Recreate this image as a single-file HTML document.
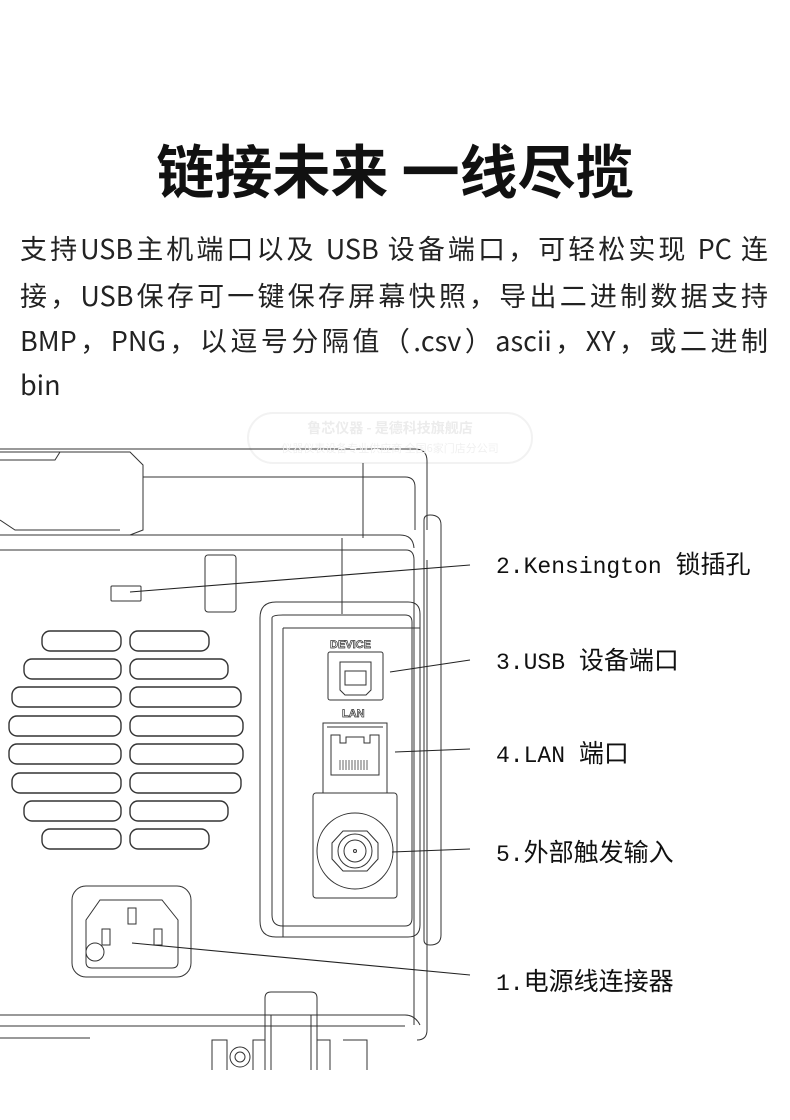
<!DOCTYPE html>
<html><head><meta charset="utf-8">
<style>
html,body{margin:0;padding:0;background:#fff;}
body{width:790px;height:1120px;position:relative;overflow:hidden;}
.t{position:absolute;left:0;width:790px;top:128px;text-align:center;font-family:"Noto Sans CJK SC",sans-serif;font-weight:bold;font-size:58px;line-height:80px;color:#111;}
.p{position:absolute;left:20px;width:748px;font-family:"Noto Sans CJK SC","Liberation Sans",sans-serif;font-size:27px;line-height:36px;color:#222;text-align:justify;text-align-last:justify;white-space:nowrap;}
.l{position:absolute;left:496px;font-family:"Liberation Mono","Noto Sans CJK SC",monospace;font-size:23px;line-height:30px;color:#111;white-space:nowrap;}
.l span{font-family:"Noto Sans CJK SC",sans-serif;font-size:25px;}
</style></head><body>
<div class="t">链接未来 一线尽揽</div>
<div class="p" style="top:230px">支持USB主机端口以及 USB 设备端口，可轻松实现 PC 连</div>
<div class="p" style="top:277px">接，USB保存可一键保存屏幕快照，导出二进制数据支持</div>
<div class="p" style="top:322px">BMP，PNG，以逗号分隔值（.csv）ascii，XY，或二进制</div>
<div class="p" style="top:366px;text-align-last:left">bin</div>

<svg width="790" height="1120" style="position:absolute;left:0;top:0" xmlns="http://www.w3.org/2000/svg">
<g fill="none" stroke="#333" stroke-width="1">
<rect x="248" y="413" width="284" height="50" rx="25" stroke="#f2f2f2" stroke-width="2"/>
<path d="M0 449 H415 Q427 449 427 461 V530"/>
<path d="M0 452 H130 L143 465 V530 L130 535"/>
<path d="M0 460 H55 L60 452"/>
<path d="M143 477 H405 Q415 477 415 487 V530"/>
<path d="M0 535 H400 Q413 535 414 548"/>
<path d="M0 550 H406 Q414 550 414 560"/>
<path d="M0 520 L15 530 H120"/>
<path d="M363 463 V538 M342 538 V614"/>
<path d="M424 520 Q424 515 430 515 Q441 515 441 525 V935 Q441 945 430 945 Q424 945 424 940 Z"/>
<path d="M427 560 V1030 Q427 1040 417 1040 M414 560 V1025"/>
<rect x="111" y="586" width="30" height="15" rx="1"/>
<rect x="205" y="555" width="31" height="57" rx="3"/>
<path d="M283 602 H408 Q420 602 420 614 V925 Q420 937 408 937 H276 Q260 937 260 921 V618 Q260 602 276 602 Z"/>
<path d="M272 618 Q272 615 283 615 H405 Q412 615 412 622 V918 Q412 926 405 926 H283 Q272 926 272 915 Z"/>
<path d="M283 628 H420 M283 628 V937"/>
<rect x="328" y="652" width="55" height="48" rx="2"/>
<path d="M340 662 H371 V690 L366 695 H345 L340 690 Z"/>
<rect x="345" y="671" width="21" height="14"/>
<path d="M323 723 H387 V793 H323 Z M327 727 H383"/>
<path d="M331 735 H340 V743 H346 V737 H364 V743 H370 V735 H379 V775 H331 Z"/>
<g stroke="#666"><path d="M340 760 V770 M343 760 V770 M346 760 V770 M349 760 V770 M352 760 V770 M355 760 V770 M358 760 V770 M361 760 V770 M364 760 V770 M367 760 V770"/></g>
<rect x="313" y="793" width="84" height="105" rx="3"/>
<circle cx="355" cy="851" r="38"/>
<path d="M343 831 H367 L378 843 V859 L367 871 H343 L332 859 V843 Z"/>
<circle cx="355" cy="851" r="17"/><circle cx="355" cy="851" r="11"/><circle cx="355" cy="851" r="1.5"/>
<g stroke-width="1.4">
<rect x="42" y="631" width="79" height="20" rx="8"/><rect x="130" y="631" width="79" height="20" rx="8"/>
<rect x="24" y="659" width="97" height="20" rx="8"/><rect x="130" y="659" width="98" height="20" rx="8"/>
<rect x="12" y="687" width="109" height="20" rx="8"/><rect x="130" y="687" width="111" height="20" rx="8"/>
<rect x="9" y="716" width="112" height="20" rx="8"/><rect x="130" y="716" width="113" height="20" rx="8"/>
<rect x="9" y="744" width="112" height="20" rx="8"/><rect x="130" y="744" width="113" height="20" rx="8"/>
<rect x="12" y="773" width="109" height="20" rx="8"/><rect x="130" y="773" width="111" height="20" rx="8"/>
<rect x="24" y="801" width="97" height="20" rx="8"/><rect x="130" y="801" width="98" height="20" rx="8"/>
<rect x="42" y="829" width="79" height="20" rx="8"/><rect x="130" y="829" width="79" height="20" rx="8"/>
</g>
<rect x="72" y="886" width="119" height="91" rx="14"/>
<path d="M100 900 H162 L178 920 V962 Q178 968 172 968 H92 Q86 968 86 962 V920 Z"/>
<rect x="128" y="908" width="8" height="16"/><rect x="102" y="929" width="8" height="16"/><rect x="154" y="929" width="8" height="16"/>
<circle cx="95" cy="952" r="9"/>
<path d="M0 1015 H405 Q415 1015 420 1025 M0 1026 H405 M0 1038 H90"/>
<path d="M265 1070 V998 Q265 992 271 992 H311 Q317 992 317 998 V1070 M271 1015 V1070 M311 1015 V1070"/>
<path d="M212 1070 V1040 H227 V1070 M253 1070 V1040 H265 M317 1040 H330 V1070 M343 1040 H367 V1070"/>
<circle cx="240" cy="1057" r="10"/><circle cx="240" cy="1057" r="5"/>
</g>
<g stroke="#222" stroke-width="1.1">
<line x1="130" y1="592" x2="470" y2="565"/>
<line x1="390" y1="672" x2="470" y2="660"/>
<line x1="395" y1="752" x2="470" y2="749"/>
<line x1="392" y1="852" x2="470" y2="849"/>
<line x1="132" y1="943" x2="470" y2="975"/>
</g>
<text x="330" y="648" font-family="Liberation Sans,sans-serif" font-size="11" font-weight="bold" fill="#fff" stroke="#333" stroke-width="0.7">DEVICE</text>
<text x="342" y="717" font-family="Liberation Sans,sans-serif" font-size="11" font-weight="bold" fill="#fff" stroke="#333" stroke-width="0.7">LAN</text>
<text x="390" y="433" text-anchor="middle" font-family="Noto Sans CJK SC,sans-serif" font-size="14" font-weight="bold" fill="#ececec">鲁芯仪器 - 是德科技旗舰店</text>
<text x="390" y="452" text-anchor="middle" font-family="Noto Sans CJK SC,sans-serif" font-size="11" fill="#f0f0f0">仪器仪表设备专业供应商  全国6家门店分公司</text>
</svg>

<div class="l" style="top:548px">2.Kensington <span>锁插孔</span></div>
<div class="l" style="top:644px">3.USB <span>设备端口</span></div>
<div class="l" style="top:737px">4.LAN <span>端口</span></div>
<div class="l" style="top:836px">5.<span>外部触发输入</span></div>
<div class="l" style="top:965px">1.<span>电源线连接器</span></div>
</body></html>
